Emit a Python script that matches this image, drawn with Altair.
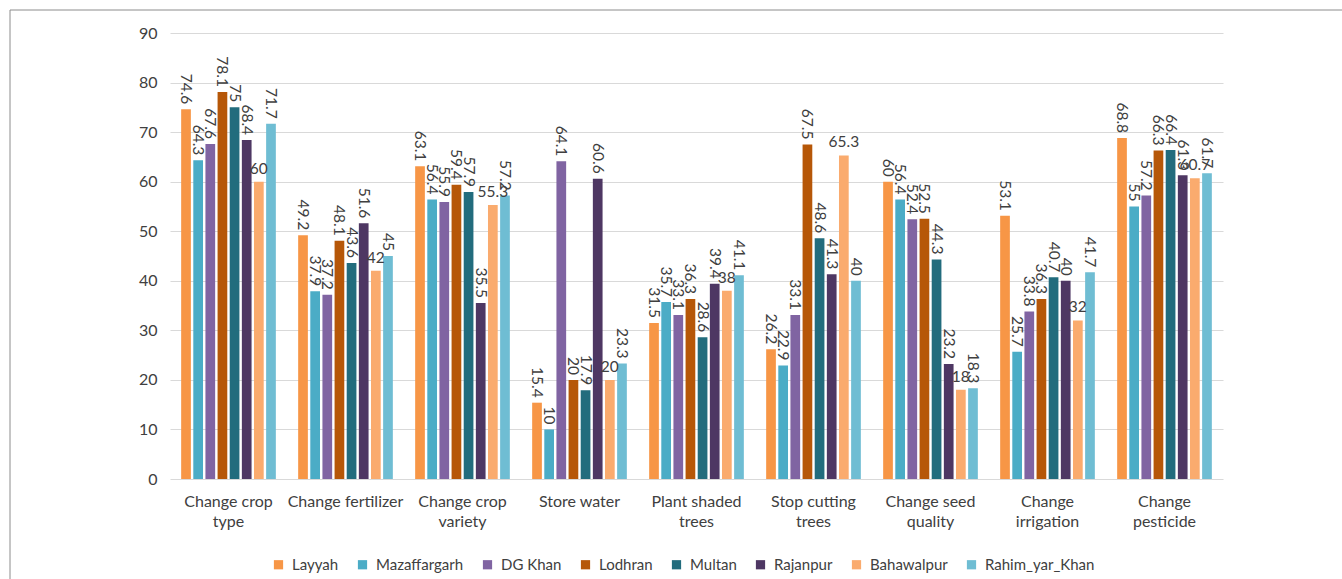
import altair as alt
import pandas as pd

categories = ["Change crop type", "Change fertilizer", "Change crop variety", "Store water",
              "Plant shaded trees", "Stop cutting trees", "Change seed quality",
              "Change irrigation", "Change pesticide"]
label_lines = [["Change crop", "type"], ["Change fertilizer"], ["Change crop", "variety"],
               ["Store water"], ["Plant shaded", "trees"], ["Stop cutting", "trees"],
               ["Change seed", "quality"], ["Change", "irrigation"], ["Change", "pesticide"]]
districts = ["Layyah", "Mazaffargarh", "DG Khan", "Lodhran", "Multan", "Rajanpur",
             "Bahawalpur", "Rahim_yar_Khan"]
colors = ["#F79646", "#4BACC6", "#8064A2", "#B65708", "#226C7D", "#4E3763", "#FAAB6E", "#6FBDD3"]

layyah = [74.6, 49.2, 63.1, 15.4, 31.5, 26.2, 60, 53.1, 68.8]
mazaffargarh = [64.3, 37.9, 56.4, 10, 35.7, 22.9, 56.4, 25.7, 55]
dg_khan = [67.6, 37.2, 55.9, 64.1, 33.1, 33.1, 52.4, 33.8, 57.2]
lodhran = [78.1, 48.1, 59.4, 20, 36.3, 67.5, 52.5, 36.3, 66.3]
multan = [75, 43.6, 57.9, 17.9, 28.6, 48.6, 44.3, 40.7, 66.4]
rajanpur = [68.4, 51.6, 35.5, 60.6, 39.4, 41.3, 23.2, 40, 61.3]
bahawalpur = [60, 42, 55.3, 20, 38, 65.3, 18, 32, 60.7]
rahim_yar_khan = [71.7, 45, 57.2, 23.3, 41.1, 40, 18.3, 41.7, 61.7]

series = [layyah, mazaffargarh, dg_khan, lodhran, multan, rajanpur, bahawalpur, rahim_yar_khan]

rows = []
for d, vals in zip(districts, series):
    for c, v in zip(categories, vals):
        rows.append({"category": c, "district": d, "value": v, "label": f"{v:g}"})
df = pd.DataFrame(rows)

FONT = "Lato"
TXT = "#404040"

expr = "''"
for c, lines in reversed(list(zip(categories, label_lines))):
    arr = "[" + ",".join(f"'{l}'" for l in lines) + "]"
    expr = f"datum.label == '{c}' ? {arr} : ({expr})"

x_enc = alt.X("category:N", sort=categories, title=None,
              scale=alt.Scale(paddingInner=0.17, paddingOuter=0.085),
              axis=alt.Axis(labelAngle=0, labelExpr=expr, labelFont=FONT, labelFontSize=16,
                            labelColor=TXT, labelPadding=14, ticks=False, domain=False,
                            labelLineHeight=20, labelBaseline="top"))
xo = alt.XOffset("district:N", sort=districts,
                 scale=alt.Scale(paddingInner=0.2, paddingOuter=0.1))
y_enc = alt.Y("value:Q", title=None,
              scale=alt.Scale(domain=[0, 90], nice=False),
              axis=alt.Axis(values=list(range(0, 91, 10)), labelFont=FONT, labelFontSize=16,
                            labelColor=TXT, labelPadding=13, ticks=False, domain=False,
                            gridColor="#D9D9D9", gridWidth=1.2))

base = alt.Chart(df)

bars = base.mark_bar().encode(
    x=x_enc, xOffset=xo, y=y_enc,
    color=alt.Color("district:N", sort=districts,
                    scale=alt.Scale(domain=districts, range=colors),
                    legend=alt.Legend(title=None, orient="none", legendX=101, legendY=524,
                                      direction="horizontal", columns=8, symbolType="square",
                                      symbolSize=85, symbolStrokeWidth=0, labelFont=FONT,
                                      labelFontSize=15, labelColor=TXT, columnPadding=16,
                                      labelOffset=6)),
)

vert = base.transform_filter(alt.datum.district != "Bahawalpur").mark_text(
    angle=90, align="right", baseline="middle", dx=-5, font=FONT, fontSize=15.5, color=TXT
).encode(x=alt.X("category:N", sort=categories), xOffset=xo, y="value:Q", text="label:N")

horiz = base.transform_filter(alt.datum.district == "Bahawalpur").mark_text(
    align="center", baseline="bottom", dy=-5, font=FONT, fontSize=15.5, color=TXT
).encode(x=alt.X("category:N", sort=categories), xOffset=xo, y="value:Q", text="label:N")

frame_top = alt.Chart(pd.DataFrame({"a": [0]})).mark_rule(color="#8C8C8C", strokeWidth=1).encode(
    x=alt.value(-160), x2=alt.value(1172), y=alt.value(-23))
frame_left = alt.Chart(pd.DataFrame({"a": [0]})).mark_rule(color="#8C8C8C", strokeWidth=1).encode(
    x=alt.value(-160), y=alt.value(-23), y2=alt.value(546))

chart = alt.layer(frame_top, frame_left, bars, vert, horiz).properties(
    width=1053, height=446,
    autosize=alt.AutoSizeParams(type="none"),
    padding={"left": 170, "top": 33, "right": 119, "bottom": 100},
    background="white",
).configure_view(stroke=None)

chart.save("out.html", embed_options={"renderer": "svg", "actions": False})
